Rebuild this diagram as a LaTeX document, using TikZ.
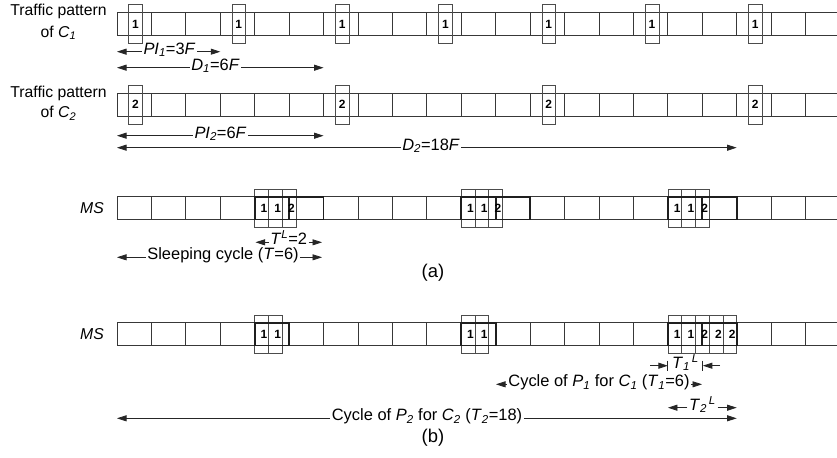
\documentclass[tikz,border=0pt]{standalone}
\usepackage{fontspec}
\setmainfont{Liberation Sans}
\usetikzlibrary{arrows.meta}
\newcommand{\ii}[1]{\textit{#1}}
\begin{document}
\begin{tikzpicture}[x=1bp,y=-1bp,
  cell/.style={draw=black!78,line width=0.8bp},
  tbox/.style={draw=black!70,line width=0.7bp},
  thickcell/.style={draw=black!88,line width=1.7bp},
  num/.style={font=\fontsize{12}{12}\selectfont\bfseries,inner sep=0pt},
  lbl/.style={font=\fontsize{16.5}{18}\selectfont,inner sep=1.5bp,anchor=mid},
  side/.style={font=\fontsize{15.8}{18}\selectfont,inner sep=0pt,anchor=base},
  arr/.style={draw=black!85,line width=0.8bp,-{Triangle[length=9.5bp,width=6bp]}},
  barline/.style={draw=black!85,line width=0.9bp},
  figcap/.style={font=\fontsize{18.5}{20}\selectfont,inner sep=0pt}
]
\useasboundingbox (0,0) rectangle (837,458);
\clip (0,0) rectangle (837,458);
\def\cw{34.43}
% strips
\foreach \yy in {12.7,93.3,196.9,322.9} {
  \draw[cell] (117,\yy) -- (837,\yy) (117,\yy+22.7) -- (837,\yy+22.7);
  \foreach \k in {0,...,21} \draw[cell] ({117+\k*\cw},\yy) -- ++(0,22.7);
}
% traffic pattern C1
\foreach \k in {0,3,...,18} {
  \draw[tbox] ({117+\k*\cw+11.7},4.7) rectangle ++(13.7,38.7);
  \node[num] (ta\k) at ({117+\k*\cw+18.5},24) {1};
}
% traffic pattern C2
\foreach \k in {0,6,12,18} {
  \draw[tbox] ({117+\k*\cw+11.7},85.3) rectangle ++(13.7,38.7);
  \node[num] (tb\k) at ({117+\k*\cw+18.5},104.7) {2};
}
% MS (a)
\foreach \g in {4,10,16} {
  \foreach \j in {0,1,2} {
    \draw[tbox] ({117+\g*\cw+\j*13.77},188.9) rectangle ++(13.77,38.7);
  }
  \draw[thickcell] ({117+\g*\cw},196.9) rectangle ++(\cw,22.7);
  \draw[thickcell] ({117+(\g+1)*\cw},196.9) rectangle ++(\cw,22.7);
  \foreach \j/\t in {0/1,1/1,2/2} {
    \node[num] (ma\g-\j) at ({117+\g*\cw+\j*13.77+9.2},208.3) {\t};
  }
}
% MS (b)
\foreach \g in {4,10} {
  \foreach \j in {0,1} {
    \draw[tbox] ({117+\g*\cw+\j*13.77},314.9) rectangle ++(13.77,38.7);
  }
  \draw[thickcell] ({117+\g*\cw},322.9) rectangle ++(\cw,22.7);
  \foreach \j in {0,1} {
    \node[num] (mb\g-\j) at ({117+\g*\cw+\j*13.77+9.2},334.3) {1};
  }
}
\foreach \j in {0,...,4} {
  \draw[tbox] ({117+16*\cw+\j*13.77},314.9) rectangle ++(13.77,38.7);
}
\draw[thickcell] ({117+16*\cw},322.9) rectangle ++(\cw,22.7);
\draw[thickcell] ({117+17*\cw},322.9) rectangle ++(\cw,22.7);
\foreach \j/\t in {0/1,1/1,2/2,3/2,4/2} {
  \node[num] (mc\j) at ({117+16*\cw+\j*13.77+9.2},334.3) {\t};
}
% side labels
\node[side] (tp1) at (58.5,16) {Traffic pattern};
\node[side] (of1) at (58.5,37.3) {of \ii{C}\textsubscript{\ii{1}}};
\node[side] (tp2) at (58.5,97.3) {Traffic pattern};
\node[side] (of2) at (58.5,118) {of \ii{C}\textsubscript{\ii{2}}};
\node[font=\fontsize{15.8}{18}\selectfont\itshape,inner sep=0pt] (msa) at (92,208.3) {MS};
\node[font=\fontsize{15.8}{18}\selectfont\itshape,inner sep=0pt] (msb) at (92,334.3) {MS};
% arrows row 1
\node[lbl] (pi1) at (169.5,51.7) {\ii{PI}\textsubscript{\ii{1}}=3\ii{F}};
\coordinate (pi1l) at (117,51.7); \coordinate (pi1r) at (220.3,51.7);
\draw[arr] (pi1.mid west) -- (pi1l); \draw[arr] (pi1.mid east) -- (pi1r);
\node[lbl] (d1) at (215.5,67.7) {\ii{D}\textsubscript{\ii{1}}=6\ii{F}};
\coordinate (d1l) at (117,67.7); \coordinate (d1r) at (323.6,67.7);
\draw[arr] (d1.mid west) -- (d1l); \draw[arr] (d1.mid east) -- (d1r);
% arrows row 2
\node[lbl] (pi2) at (220.5,135.7) {\ii{PI}\textsubscript{\ii{2}}=6\ii{F}};
\coordinate (pi2l) at (117,135.7); \coordinate (pi2r) at (323.6,135.7);
\draw[arr] (pi2.mid west) -- (pi2l); \draw[arr] (pi2.mid east) -- (pi2r);
\node[lbl] (d2) at (431,147.7) {\ii{D}\textsubscript{\ii{2}}=18\ii{F}};
\coordinate (d2l) at (117,147.7); \coordinate (d2r) at (736.7,147.7);
\draw[arr] (d2.mid west) -- (d2l); \draw[arr] (d2.mid east) -- (d2r);
% (a) arrows
\node[lbl] (tl) at (288.7,242.3) {\ii{T}\textsuperscript{\ii{L}}=2};
\coordinate (tll) at (255.5,242.3); \coordinate (tlr) at (322,242.3);
\draw[arr] (tl.mid west) -- (tll); \draw[arr] (tl.mid east) -- (tlr);
\node[lbl] (sc) at (223,257.3) {Sleeping cycle (\ii{T}=6)};
\coordinate (scl) at (117,257.3); \coordinate (scr) at (322,257.3);
\draw[arr] (sc.mid west) -- (scl); \draw[arr] (sc.mid east) -- (scr);
\node[figcap] (capa) at (433,273) {(a)};
% (b) arrows
\node[lbl] (t1l) at (685.5,365.7) {\ii{T}\textsubscript{\ii{1}}\textsuperscript{\,\ii{L}}};
\coordinate (b1) at (667.9,365.7); \coordinate (b2) at (702.8,365.7);
\coordinate (b1s) at (650,365.7); \coordinate (b2s) at (720,365.7);
\coordinate (b1t) at (667.9,360.7); \coordinate (b1b) at (667.9,370.7);
\coordinate (b2t) at (702.8,360.7); \coordinate (b2b) at (702.8,370.7);
\draw[arr] (b1s) -- (b1); \draw[arr] (b2s) -- (b2);
\draw[barline] (b1t) -- (b1b); \draw[barline] (b2t) -- (b2b);
\node[lbl] (cp1) at (599,384.3) {Cycle of \ii{P}\textsubscript{\ii{1}} for \ii{C}\textsubscript{\ii{1}} (\ii{T}\textsubscript{\ii{1}}=6)};
\coordinate (cp1l) at (496,384.3); \coordinate (cp1r) at (702,384.3);
\draw[arr] (cp1.mid west) -- (cp1l); \draw[arr] (cp1.mid east) -- (cp1r);
\node[lbl] (t2l) at (702.5,407.7) {\ii{T}\textsubscript{\ii{2}}\textsuperscript{\,\ii{L}}};
\coordinate (t2ll) at (667.9,407.7); \coordinate (t2lr) at (736.7,407.7);
\draw[arr] (t2l.mid west) -- (t2ll); \draw[arr] (t2l.mid east) -- (t2lr);
\node[lbl] (cp2) at (427,418.3) {Cycle of \ii{P}\textsubscript{\ii{2}} for \ii{C}\textsubscript{\ii{2}} (\ii{T}\textsubscript{\ii{2}}=18)};
\coordinate (cp2l) at (117,418.3); \coordinate (cp2r) at (736.7,418.3);
\draw[arr] (cp2.mid west) -- (cp2l); \draw[arr] (cp2.mid east) -- (cp2r);
\node[figcap] (capb) at (433,437.5) {(b)};
\end{tikzpicture}
\end{document}
